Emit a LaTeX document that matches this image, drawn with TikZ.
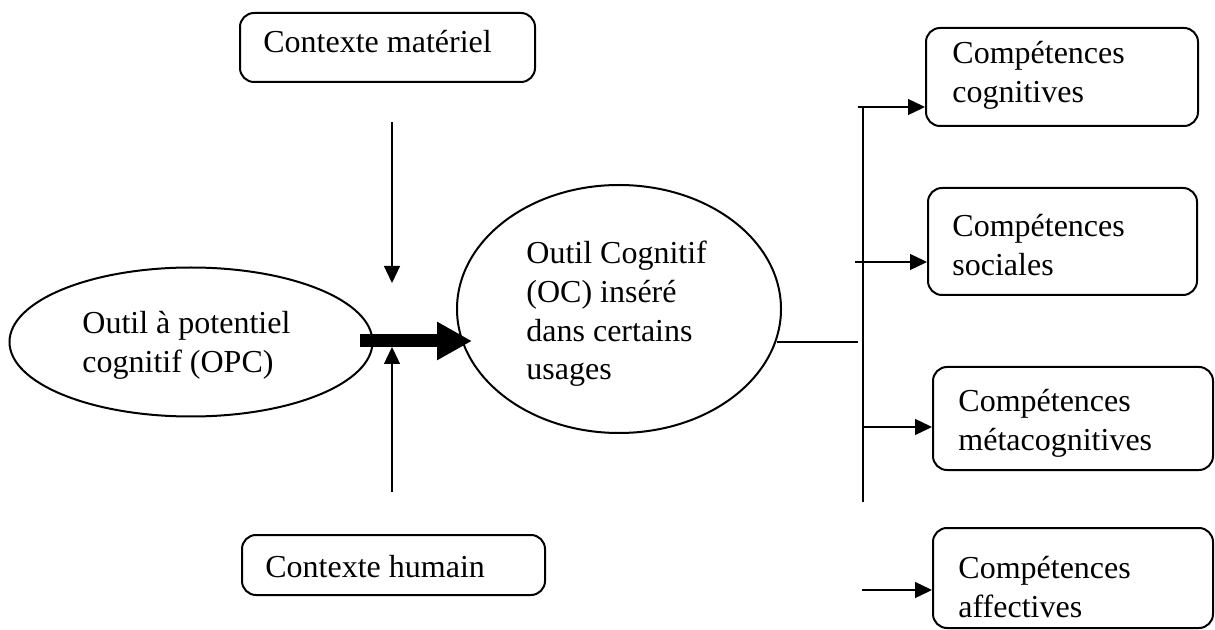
\documentclass[tikz,border=0pt]{standalone}
\usepackage{fontspec}
\setmainfont{Liberation Serif}
\usetikzlibrary{arrows.meta,shapes.geometric}
\begin{document}
\begin{tikzpicture}[x=0.5pt,y=-0.5pt,
  every node/.style={font=\fontsize{16}{19.5}\selectfont},
  ctxbox/.style={draw,line width=1pt,rounded corners=7pt,inner sep=0pt},
  oval/.style={draw,ellipse,line width=1pt,inner sep=0pt},
  lbl/.style={anchor=base west,align=left,inner sep=0pt},
  thinline/.style={line width=0.65pt},
  thinarrow/.style={line width=0.65pt,-{Triangle[length=8.5pt,width=8pt]}},
  bigarrow/.style={line width=6.5pt,-{Triangle[length=17.5pt,width=18pt]}}]
\useasboundingbox (0,0) rectangle (1215,630);
\clip (0,0) rectangle (1215,630);

% context boxes
\node[ctxbox,minimum width=147.5pt,minimum height=34.5pt] (mat) at (387.5,47.5) {};
\node[lbl] (matT) at (263,53) {Contexte matériel};
\node[ctxbox,minimum width=151.5pt,minimum height=30pt] (hum) at (393.5,565) {};
\node[lbl] (humT) at (265,577) {Contexte humain};

% ellipses
\node[oval,minimum width=181.5pt,minimum height=74.5pt] (opc) at (191,342) {};
\node[lbl] (opcT) at (82,372) {Outil à potentiel\\cognitif (OPC)};
\node[oval,minimum width=162pt,minimum height=124pt] (oc) at (619,309) {};
\node[lbl] (ocT) at (526,380) {Outil Cognitif\\(OC) inséré\\dans certains\\usages};

% competence boxes
\node[ctxbox,minimum width=136pt,minimum height=49pt] (cog) at (1062,77) {};
\node[lbl] (cogT) at (952,103) {Compétences\\cognitives};
\node[ctxbox,minimum width=134.5pt,minimum height=53.5pt] (soc) at (1062.5,241.5) {};
\node[lbl] (socT) at (952,276) {Compétences\\sociales};
\node[ctxbox,minimum width=140pt,minimum height=51.5pt] (meta) at (1073,418.5) {};
\node[lbl] (metaT) at (958,451) {Compétences\\métacognitives};
\node[ctxbox,minimum width=140pt,minimum height=50pt] (aff) at (1073,578) {};
\node[lbl] (affT) at (958,617) {Compétences\\affectives};

% coordinates for free ends
\coordinate (matS) at (392,122);
\coordinate (matE) at (392,283);
\coordinate (humS) at (392,492);
\coordinate (humE) at (392,347);
\coordinate (bigS) at (360,341);
\coordinate (bigE) at (472,341);
\coordinate (ocR) at (777,342);
\coordinate (junc) at (858,342);
\coordinate (vTop) at (863,106);
\coordinate (vBot) at (863,502);
\coordinate (cogS) at (858,107);
\coordinate (socS) at (855,262);
\coordinate (metaS) at (863,427);
\coordinate (affS) at (862,590);

% connectors
\draw[thinarrow] (matS) -- (matE);
\draw[thinarrow] (humS) -- (humE);
\draw[bigarrow] (bigS) -- (bigE);
\draw[thinline] (ocR) -- (junc);
\draw[thinline] (vTop) -- (vBot);
\draw[thinarrow] (cogS) -- (cogS -| cog.west);
\draw[thinarrow] (socS) -- (socS -| soc.west);
\draw[thinarrow] (metaS) -- (metaS -| meta.west);
\draw[thinarrow] (affS) -- (affS -| aff.west);
\end{tikzpicture}
\end{document}
